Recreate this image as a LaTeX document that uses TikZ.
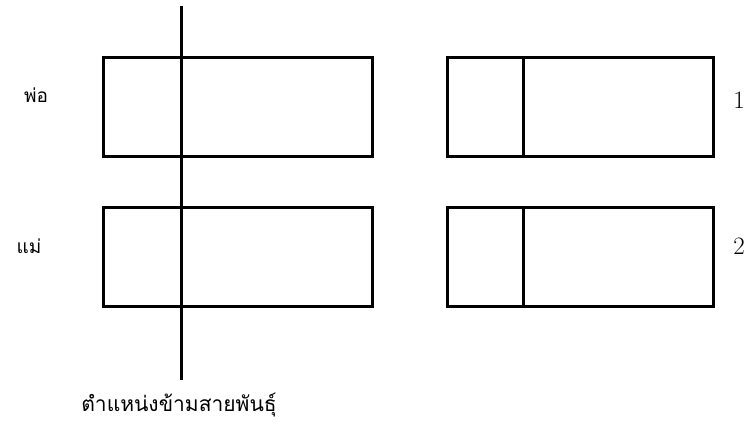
\documentclass[tikz,border=0pt]{standalone}
\usepackage{fontspec}
\newfontfamily\thaifont[Script=Thai]{Loma}
\usetikzlibrary{positioning}

\begin{document}
\begin{tikzpicture}[
  x=1pt,y=-1pt,
  chrom/.style={draw=black,line width=3pt,minimum height=99pt,inner sep=0pt},
  parentlabel/.style={font=\thaifont\fontsize{19}{22}\selectfont},
  childlabel/.style={font=\fontsize{25}{29}\selectfont},
  cutline/.style={draw=black,line width=3pt}
]
\useasboundingbox (0,0) rectangle (754,423);

% parents
\node[chrom,minimum width=269pt] (father) at (237.5,107) {};
\node[chrom,minimum width=269pt] (mother) at (237.5,256.5) {};
\node[parentlabel] (fatherlabel) at (36,95) {พ่อ};
\node[parentlabel] (motherlabel) at (29,246) {แม่};

% offspring
\node[chrom,minimum width=76pt] (childAleft) at (485,107) {};
\node[chrom,minimum width=190pt] (childAright) at (618,107) {};
\node[chrom,minimum width=76pt] (childBleft) at (485,256.5) {};
\node[chrom,minimum width=190pt] (childBright) at (618,256.5) {};
\node[childlabel] (childAlabel) at (739,100) {1};
\node[childlabel] (childBlabel) at (739,246) {2};

% crossover point
\coordinate (cuttop) at (181,6);
\coordinate (cutbottom) at (181,380);
\draw[cutline] (cuttop) -- (cutbottom);
\node[font=\thaifont\fontsize{21}{25}\selectfont] (cutlabel) at (179,405) {ตำแหน่งข้ามสายพันธุ์};
\end{tikzpicture}
\end{document}
